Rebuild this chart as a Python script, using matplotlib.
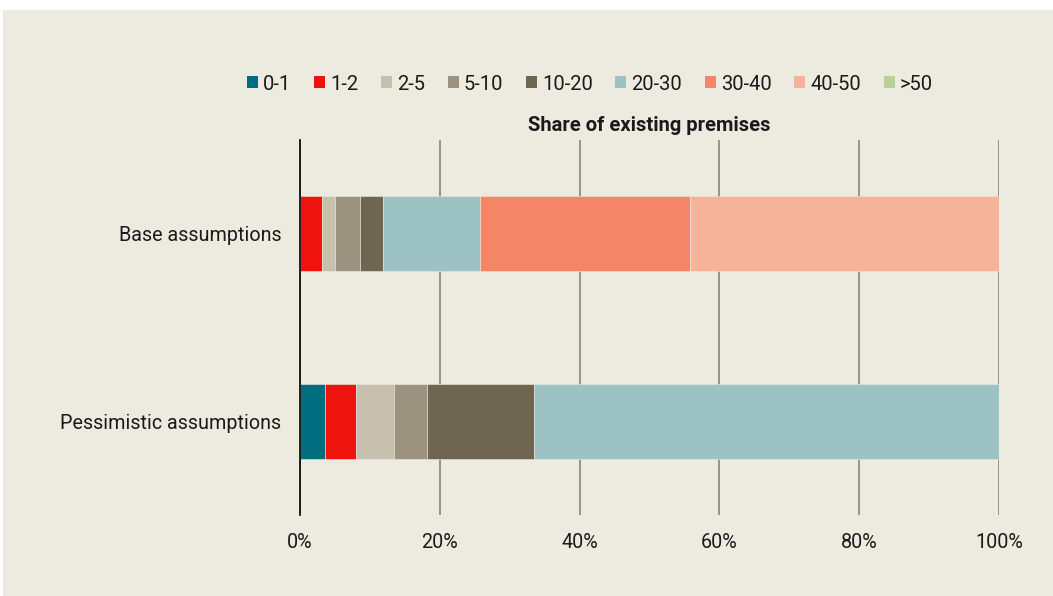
import matplotlib
matplotlib.use("Agg")
import matplotlib.pyplot as plt
from matplotlib.patches import Rectangle, Patch
from matplotlib.ticker import PercentFormatter
import numpy as np

# Distance bands (km) and their colours
bands = ["0-1", "1-2", "2-5", "5-10", "10-20", "20-30", "30-40", "40-50", ">50"]
colors = ["#006E7E", "#EE130C", "#C8C0AE", "#9C9280", "#6E6650",
          "#9DC2C4", "#F48566", "#F7B29A", "#B9D199"]

scenarios = ["Base assumptions", "Pessimistic assumptions"]

# Share of existing premises (%) per band
base_share = [0.0, 3.1, 1.9, 3.6, 3.3, 13.8, 30.1, 44.2, 0.0]
pessimistic_share = [3.6, 4.4, 5.5, 4.6, 15.4, 66.5, 0.0, 0.0, 0.0]

plt.rcParams["font.family"] = ["Roboto", "DejaVu Sans"]

bg = "#EDEAE0"
fig = plt.figure(figsize=(10.53, 5.96), dpi=100, facecolor="white")
fig.patches.append(Rectangle((3 / 1053, 0), 1, 1 - 10 / 596,
                             transform=fig.transFigure, facecolor=bg,
                             edgecolor="none", zorder=-10))

ax = fig.add_axes([300 / 1053, 1 - 515 / 596, 699 / 1053, 375 / 596])
ax.set_facecolor(bg)

data = np.array([base_share, pessimistic_share])
ypos = np.arange(len(scenarios))
left = np.zeros(len(scenarios))
for i, (band, col) in enumerate(zip(bands, colors)):
    ax.barh(ypos, data[:, i], left=left, height=0.4, color=col,
            edgecolor=bg, linewidth=0.4, label=band, zorder=3)
    left += data[:, i]

ax.set_xlim(0, 100)
ax.set_ylim(1.5, -0.5)
ax.set_yticks(ypos)
ax.set_yticklabels(scenarios)
ax.set_xticks(np.arange(0, 101, 20))
ax.xaxis.set_major_formatter(PercentFormatter(decimals=0))
ax.tick_params(axis="both", length=0, labelsize=14.2, colors="#1a1a1a")
ax.tick_params(axis="x", pad=13)
ax.tick_params(axis="y", pad=13.5)

ax.grid(axis="x", color="#8a857c", linewidth=1.2, zorder=1)
for s in ["top", "right", "bottom"]:
    ax.spines[s].set_visible(False)
ax.spines["left"].set_color("black")
ax.spines["left"].set_linewidth(1.2)
ax.spines["left"].set_zorder(4)

ax.set_title("Share of existing premises", fontsize=14.5, fontweight="bold",
             pad=6.5, color="#1a1a1a")

handles = [Patch(facecolor=c, edgecolor="none") for c in colors]
fig.legend(handles, bands, loc="center", ncol=len(bands),
           bbox_to_anchor=(590 / 1053, 1 - 84 / 596), frameon=False,
           fontsize=14.5, handlelength=0.55, handleheight=0.55,
           handletextpad=0.25, columnspacing=1.12, labelcolor="#1a1a1a")

fig.savefig("out.png", dpi=100, facecolor=fig.get_facecolor())
